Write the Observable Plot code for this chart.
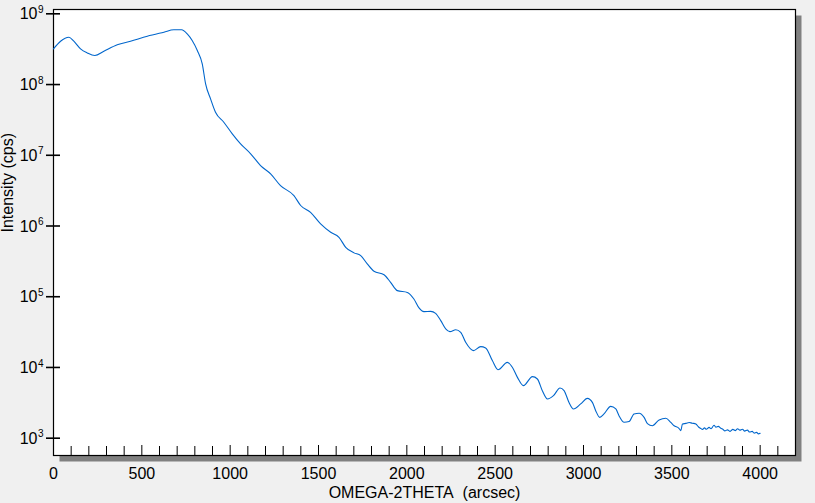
<!DOCTYPE html>
<html>
<head>
<meta charset="utf-8">
<script src="https://cdn.jsdelivr.net/npm/d3@7"></script>
<script src="https://cdn.jsdelivr.net/npm/@observablehq/plot@0.6"></script>
<style>
  html, body { margin: 0; padding: 0; background: #f0f0f0; }
</style>
</head>
<body>
<div id="chart"></div>
<script>
// Scan angle (arcsec)
const omega2theta = [
  0, 40, 87, 115, 153, 191, 234, 285, 361, 436, 531, 625, 681, 725, 757, 785, 814, 842, 861, 889,
  917, 964, 1012, 1059, 1116, 1172, 1229, 1285, 1361, 1399, 1455, 1512, 1569, 1616, 1654, 1701, 1739, 1776, 1814, 1871,
  1908, 1946, 2003, 2040, 2069, 2097, 2135, 2163, 2192, 2220, 2244, 2277, 2305, 2333, 2377, 2418, 2446, 2484, 2516, 2569,
  2598, 2626, 2660, 2711, 2739, 2767, 2796, 2830, 2867, 2890, 2918, 2943, 2984, 3022, 3051, 3069, 3092, 3116, 3154, 3183,
  3201, 3230, 3258, 3286, 3315, 3343, 3362, 3390, 3428, 3466, 3494, 3513, 3540, 3551, 3560, 3580, 3598, 3615, 3636, 3650,
  3662, 3674, 3685, 3695, 3711, 3722, 3739, 3750, 3763, 3777, 3790, 3800, 3815, 3830, 3845, 3860, 3872, 3885, 3900, 3912,
  3928, 3940, 3955, 3966, 3980, 3990, 4000
];
// Intensity (cps)
const intensity = [
  3.2e8, 4.1e8, 4.67e8, 4.1e8, 3.2e8, 2.8e8, 2.57e8, 2.96e8, 3.65e8, 4.1e8, 4.82e8, 5.5e8, 5.94e8, 5.94e8, 5.2e8, 4.19e8, 3.03e8, 1.96e8, 1.02e8, 6.28e7,
  4.06e7, 2.93e7, 2.01e7, 1.45e7, 1.05e7, 7.14e6, 5.46e6, 3.72e6, 2.69e6, 1.95e6, 1.56e6, 1.07e6, 8.15e5, 6.92e5, 5.0e5, 4.17e5, 3.81e5, 2.91e5, 2.29e5, 2.05e5,
  1.60e5, 1.22e5, 1.15e5, 9.3e4, 6.95e4, 6.15e4, 6.21e4, 5.82e4, 4.59e4, 3.51e4, 3.21e4, 3.42e4, 3.14e4, 2.27e4, 1.73e4, 1.97e4, 1.89e4, 1.25e4, 9.3e3, 1.18e4,
  1.0e4, 7.24e3, 5.53e3, 7.41e3, 6.87e3, 4.70e3, 3.58e3, 3.99e3, 5.13e3, 4.70e3, 3.20e3, 2.59e3, 3.05e3, 3.66e3, 3.18e3, 2.45e3, 1.97e3, 2.20e3, 2.82e3, 2.59e3,
  2.08e3, 1.68e3, 1.72e3, 2.20e3, 2.25e3, 1.97e3, 1.61e3, 1.50e3, 1.81e3, 1.91e3, 1.67e3, 1.50e3, 1.38e3, 1.28e3, 1.59e3, 1.62e3, 1.67e3, 1.63e3, 1.59e3, 1.45e3,
  1.38e3, 1.33e3, 1.40e3, 1.34e3, 1.42e3, 1.36e3, 1.52e3, 1.43e3, 1.47e3, 1.38e3, 1.33e3, 1.27e3, 1.31e3, 1.25e3, 1.33e3, 1.28e3, 1.36e3, 1.30e3, 1.34e3, 1.26e3,
  1.30e3, 1.22e3, 1.25e3, 1.18e3, 1.21e3, 1.15e3, 1.17e3
];
const xMajorTicks = [0, 500, 1000, 1500, 2000, 2500, 3000, 3500, 4000];
const xMinorTicks = [100, 200, 300, 400, 600, 700, 800, 900, 1100, 1200, 1300, 1400, 1600, 1700, 1800, 1900,
  2100, 2200, 2300, 2400, 2600, 2700, 2800, 2900, 3100, 3200, 3300, 3400, 3600, 3700, 3800, 3900, 4100];
const yTicks = [1e3, 1e4, 1e5, 1e6, 1e7, 1e8, 1e9];
const xLabel = "OMEGA-2THETA\u00a0 (arcsec)";
const yLabel = "Intensity (cps)";

const data = omega2theta.map((x, i) => ({x, y: intensity[i]}));

const chart = Plot.plot({
  width: 815,
  height: 503,
  marginLeft: 53,
  marginTop: 9,
  marginRight: 20,
  marginBottom: 48,
  style: {background: "#f0f0f0", fontFamily: "'Liberation Sans', Arial, sans-serif", fontSize: "16px", color: "black"},
  x: {domain: [0, 4200], axis: null},
  y: {type: "log", domain: [569, 1.151e9], axis: null},
  marks: [
    Plot.frame({fill: "#808080", stroke: null, dx: 6, dy: 6}),
    Plot.frame({fill: "white", stroke: "black", strokeWidth: 1.2}),
    Plot.axisX({ticks: xMinorTicks, tickSize: 9, dy: -9, text: null, label: null, strokeWidth: 1}),
    Plot.axisX({ticks: xMajorTicks, tickSize: 10, dy: -10, text: null, label: null, strokeWidth: 1}),
    Plot.axisX({ticks: xMajorTicks, tickSize: 0, tickPadding: 12, tickFormat: d => String(d), label: null, fontSize: 16}),
    Plot.axisY({ticks: yTicks, tickSize: 14, dx: 7, text: null, label: null, strokeWidth: 1.6}),
    Plot.text(yTicks, {y: d => d, frameAnchor: "left", text: () => "10", textAnchor: "end", dx: -16, dy: 0.5, fontSize: 16}),
    Plot.text(yTicks, {y: d => d, frameAnchor: "left", text: d => String(Math.round(Math.log10(d))), textAnchor: "start", dx: -15.5, dy: -4, fontSize: 10}),
    Plot.text([xLabel], {frameAnchor: "bottom", text: d => d, lineAnchor: "top", dy: 31, fontSize: 16}),
    Plot.text([yLabel], {frameAnchor: "left", text: d => d, rotate: -90, lineAnchor: "top", dx: -51.5, fontSize: 16}),
    Plot.line(data, {x: "x", y: "y", stroke: "#0066cc", strokeWidth: 1.1, curve: "monotone-x"})
  ]
});
document.getElementById("chart").appendChild(chart);
</script>
</body>
</html>
